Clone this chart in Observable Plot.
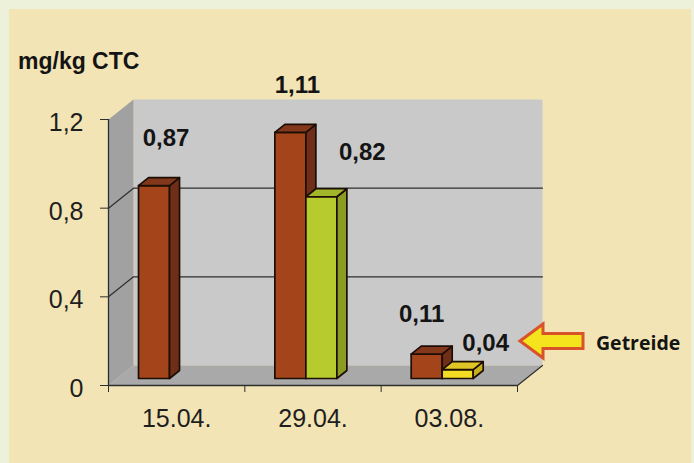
<!DOCTYPE html>
<html>
<head>
<meta charset="utf-8">
<script src="https://cdn.jsdelivr.net/npm/d3@7"></script>
<script src="https://cdn.jsdelivr.net/npm/@observablehq/plot@0.6"></script>
<style>
  html, body { margin: 0; padding: 0; }
  body { width: 694px; height: 463px; overflow: hidden; background: #edf1da; position: relative;
         font-family: "Liberation Sans", Arial, sans-serif; }
  #panel { position: absolute; left: 9px; top: 9px; width: 682px; height: 454px; background: #f3e4b5; }
  #chart { position: absolute; left: 0; top: 0; }
  #overlay { position: absolute; left: 0; top: 0; pointer-events: none; }
</style>
</head>
<body>
<div id="panel"><div id="chart"></div></div>
<svg id="overlay" width="694" height="463"></svg>
<script>
// ---- data ----
const dates = ["15.04.", "29.04.", "03.08."];
const seriesA = [0.87, 1.11, 0.11];      // brown bars
const seriesB = [null, 0.82, 0.04];      // second bars (green / yellow)
const labelsA = ["0,87", "1,11", "0,11"];
const labelsB = [null, "0,82", "0,04"];
const yTicks = [0, 0.4, 0.8, 1.2];
const yTickLabels = ["0", "0,4", "0,8", "1,2"];
const unitLabel = "mg/kg CTC";
const noteLabel = "Getreide";

// ---- styles ----
const colA = {front: "#a3441b", side: "#6f2e17", top: "#84381b"};
const colB = [null,
  {front: "#b7cb2f", side: "#8a9d22", top: "#a2b62a"},
  {front: "#f2dd22", side: "#c7b01c", top: "#e0c526"}];
const nudgeA = [[12, -47], [7, -47], [-5, -40]];
const nudgeB = [null, [41, -44], [28, -26]];

const W = 682, H = 454, mL = 99, mR = 174, mT = 110, mB = 78;
const xMax = 3, yMax = 1.2;
const kx = (W - mL - mR) / xMax;     // px per x unit
const ky = (H - mT - mB) / yMax;     // px per y unit
// pixel shift (px right, py down) -> data units
const pt = (x, y, s) => ({x: x + s[0] / kx, y: y - s[1] / ky});
const wall = [25, -20];
const s0 = [8.75, -7], s1 = [18.75, -15];
const barOff = 0.156, barW = 0.2274;

// bars
const bars = [];
dates.forEach((d, i) => {
  [[seriesA[i], colA, labelsA[i], nudgeA[i]], [seriesB[i], colB[i], labelsB[i], nudgeB[i]]].forEach(([v, c, lab, nd], s) => {
    if (v == null) return;
    const x0 = i + barOff + s * barW, x1 = x0 + barW;
    bars.push({x0, x1, v, c, lab, nd});
  });
});

const poly = (pts, fill, stroke, sw) => Plot.line(pts, {x: "x", y: "y", fill, stroke, strokeWidth: sw, curve: "linear-closed", strokeLinejoin: "round"});

const marks = [];
// walls
marks.push(poly([pt(0,0,wall), pt(xMax,0,wall), pt(xMax,yMax,wall), pt(0,yMax,wall)], "#c9c9c9", "none", 0));
marks.push(poly([pt(0,0,[0,0]), pt(0,0,wall), pt(0,yMax,wall), pt(0,yMax,[0,0])], "#a1a1a1", "none", 0));
marks.push(poly([pt(0,0,[0,0]), pt(xMax,0,[0,0]), pt(xMax,0,wall), pt(0,0,wall)], "#a9a9a9", "none", 0));
// gridlines
[0.4, 0.8].forEach(v => {
  marks.push(Plot.line([pt(0,v,[0,0]), pt(0,v,wall), pt(xMax,v,wall)], {x: "x", y: "y", stroke: "#2e2e2e", strokeWidth: 1.2}));
});
// floor right edge
marks.push(Plot.line([pt(xMax,0,[0,0]), pt(xMax,0,wall)], {x: "x", y: "y", stroke: "#2e2e2e", strokeWidth: 1.2}));
// bars
const bs = "#1c0e05";
bars.forEach(b => {
  marks.push(poly([pt(b.x0,0,s0), pt(b.x1,0,s0), pt(b.x1,b.v,s0), pt(b.x0,b.v,s0)], b.c.front, bs, 1.7));
  marks.push(poly([pt(b.x1,0,s0), pt(b.x1,0,s1), pt(b.x1,b.v,s1), pt(b.x1,b.v,s0)], b.c.side, bs, 1.7));
  marks.push(poly([pt(b.x0,b.v,s0), pt(b.x1,b.v,s0), pt(b.x1,b.v,s1), pt(b.x0,b.v,s1)], b.c.top, bs, 1.7));
});
// front axes
marks.push(Plot.ruleX([0], {y1: 0, y2: yMax, stroke: "#2e2e2e", strokeWidth: 1.3}));
marks.push(Plot.ruleY([0], {x1: 0, x2: xMax, stroke: "#2e2e2e", strokeWidth: 1.3}));
marks.push(Plot.axisY({ticks: yTicks, tickSize: 8, tickFormat: () => "", label: null, stroke: "#2e2e2e"}));
marks.push(Plot.axisX({ticks: [0, 1, 2, 3], tickSize: 7, tickFormat: () => "", label: null, stroke: "#2e2e2e"}));
// tick labels
marks.push(Plot.text(yTicks, {x: 0, y: d => d, text: (d, i) => yTickLabels[i], textAnchor: "end", dx: -25, dy: 3.5, fontSize: 25, fill: "#1e1e1e"}));
marks.push(Plot.text(dates, {x: (d, i) => i + 0.5, y: 0, text: d => d, dy: 33.5, fontSize: 25, fill: "#1e1e1e"}));
// value labels
bars.forEach(b => {
  marks.push(Plot.text([b], {x: d => (d.x0 + d.x1) / 2 + s0[0] / kx, y: d => d.v - s0[1] / ky, text: d => d.lab,
    dx: b.nd[0], dy: b.nd[1], fontSize: 24, fontWeight: "bold", fill: "#141414"}));
});

const chart = Plot.plot({
  width: W, height: H, marginLeft: mL, marginRight: mR, marginTop: mT, marginBottom: mB,
  x: {domain: [0, xMax], label: null}, y: {domain: [0, yMax], label: null},
  style: {background: "transparent", overflow: "visible", fontFamily: "'Liberation Sans', Arial, sans-serif"},
  marks
});
document.getElementById("chart").appendChild(chart);

// annotations: unit label, arrow, note
const ov = d3.select("#overlay");
ov.append("text").attr("x", 18).attr("y", 69).text(unitLabel)
  .attr("font-family", "'Liberation Sans', Arial, sans-serif").attr("font-weight", "bold").attr("font-size", 23).attr("fill", "#141414");
ov.append("path")
  .attr("d", "M520,341 L543,324 L543,333.5 L583,333.5 L583,348.5 L543,348.5 L543,358 Z")
  .attr("fill", "#f4e41e").attr("stroke", "#d8522a").attr("stroke-width", 3).attr("stroke-linejoin", "miter");
ov.append("text").attr("x", 596).attr("y", 350).text(noteLabel)
  .attr("font-family", "'Open Sans', sans-serif").attr("font-weight", "bold").attr("font-size", 19.5).attr("fill", "#141414");
</script>
</body>
</html>
